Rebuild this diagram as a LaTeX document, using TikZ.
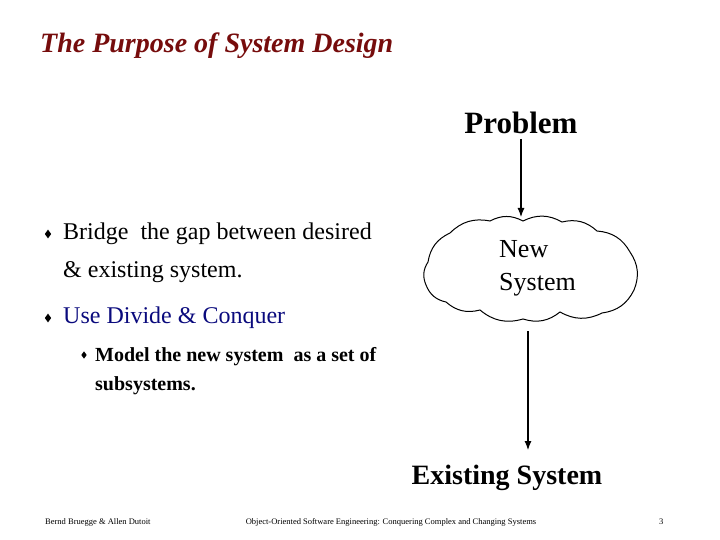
\documentclass[tikz,border=0pt]{standalone}
\usepackage{fontspec}
\setmainfont{Liberation Serif}
\usetikzlibrary{arrows.meta,shapes.geometric}
\definecolor{titlered}{RGB}{118,12,12}
\definecolor{navyblue}{RGB}{10,10,125}
\tikzset{
  txt/.style={inner sep=0pt, anchor=base west},
  ctxt/.style={inner sep=0pt, anchor=base},
  arr/.style={line width=1.1pt, -{Latex[length=9pt,width=7pt]}},
  bul/.style={diamond, fill=black, inner sep=0pt, minimum width=6.5pt, minimum height=9pt},
  cloudline/.style={line width=1pt},
}
\newcommand{\fs}[1]{\fontsize{#1}{#1}\selectfont}
\begin{document}
\begin{tikzpicture}[x=1pt,y=1pt]
\useasboundingbox (0,0) rectangle (720,-540);
% title
\node[txt, text=titlered] (title) at (40,-53) {\fs{28}\bfseries\itshape The Purpose of System Design};
% right side diagram
\node[ctxt] (problem) at (521,-134) {\fs{31}\bfseries Problem};
\coordinate (p1) at (521,-139);
\coordinate (p2) at (521,-217);
\draw[arr] (p1) -- (p2);
% cloud
\draw[cloudline] (428,-262) to[bend left=28] (450,-233) to[bend left=28] (490,-221)
  to[bend left=28] (523,-221) to[bend left=28] (562,-222) to[bend left=28] (597,-231)
  to[bend left=28] (630,-252) to[bend left=28] (634,-290) to[bend left=28] (602,-313)
  to[bend left=28] (560,-312) to[bend left=28] (523,-319) to[bend left=28] (480,-310)
  to[bend left=28] (446,-302) to[bend left=28] (426,-285) to[bend left=28] (428,-262) -- cycle;
\node[txt] (new) at (499,-257) {\fs{26}New};
\node[txt] (sys) at (499,-290) {\fs{26}System};
\coordinate (c1) at (528,-331);
\coordinate (c2) at (528,-450);
\draw[arr] (c1) -- (c2);
\node[ctxt] (existing) at (507,-484) {\fs{28}\bfseries Existing System};
% bullets
\node[bul] (b1) at (48,-234) {};
\node[txt] (t1) at (63,-240) {\fs{24}Bridge\ \ the gap between desired};
\node[txt] (t1b) at (63,-277) {\fs{24}\& existing system.};
\node[bul] (b2) at (48,-318) {};
\node[txt, text=navyblue] (t2) at (63,-323) {\fs{24}Use Divide \& Conquer};
\node[bul, minimum width=5.5pt, minimum height=7.5pt] (b3) at (84,-355) {};
\node[txt] (t3) at (95,-361) {\fs{20}\bfseries Model the new system\ \ as a set of};
\node[txt] (t3b) at (95,-390) {\fs{20}\bfseries subsystems.};
% footer
\node[txt] (f1) at (45,-524) {\fs{8.5}Bernd Bruegge \& Allen Dutoit};
\node[ctxt] (f2) at (391,-524) {\fs{8.5}Object-Oriented Software Engineering: Conquering Complex and Changing Systems};
\node[txt] (f3) at (659,-524) {\fs{8.5}3};
\end{tikzpicture}
\end{document}
